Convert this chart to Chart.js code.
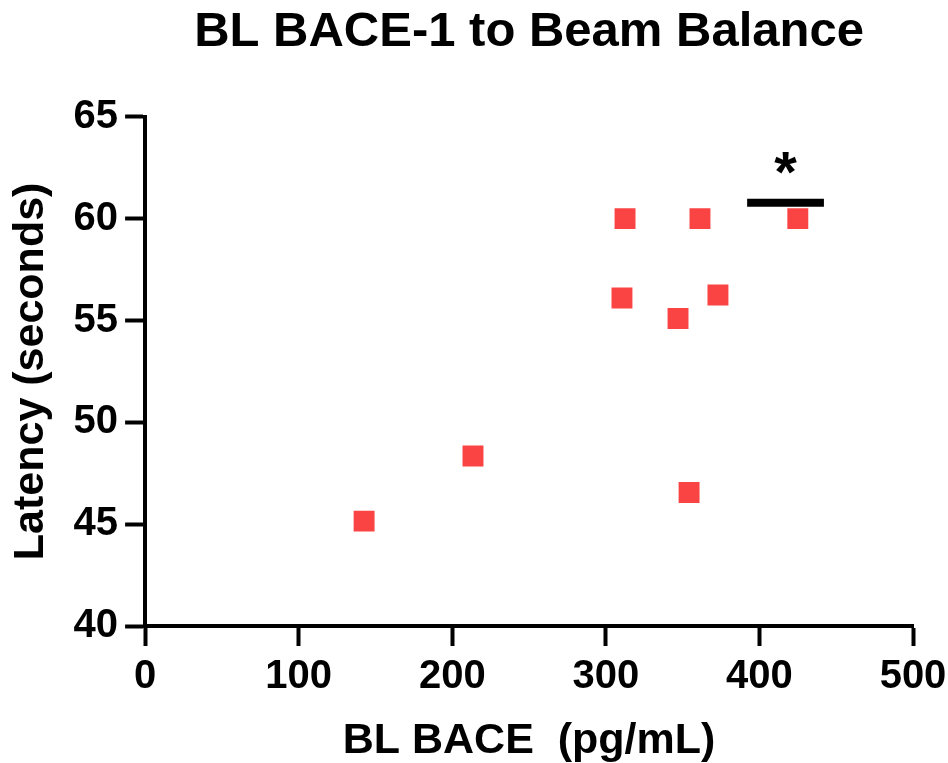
<!DOCTYPE html>
<html>
<head>
<meta charset="utf-8">
<script src="https://cdn.jsdelivr.net/npm/chart.js@4/dist/chart.umd.min.js"></script>
<style>
  html, body { margin: 0; padding: 0; background: #fff; }
  #wrap { width: 948px; height: 763px; }
</style>
</head>
<body>
<div id="wrap"><canvas id="scatter" width="948" height="763"></canvas></div>
<script>
// values
var baceLevels = [142.6, 213.5, 312.5, 310.5, 361.3, 347, 354.2, 373, 425];
var latencies = [45.15, 48.35, 60, 56.1, 60, 55.1, 46.55, 56.25, 60];
var xTicks = [0, 100, 200, 300, 400, 500];
var yTicks = [40, 45, 50, 55, 60, 65];
// significance bar over the top group and its star
var sigBarX = [392, 442];
var sigBarY = 60.78;
var sigStarX = 417;
var sigStarY = 62.75;
var sigLabel = '*';

var points = baceLevels.map(function (x, i) { return { x: x, y: latencies[i] }; });

var sigPlugin = {
  id: 'sigMark',
  afterDatasetsDraw: function (chart) {
    var ctx = chart.ctx, xs = chart.scales.x, ys = chart.scales.y;
    ctx.save();
    ctx.strokeStyle = '#000';
    ctx.lineWidth = 8;
    ctx.beginPath();
    ctx.moveTo(xs.getPixelForValue(sigBarX[0]), ys.getPixelForValue(sigBarY));
    ctx.lineTo(xs.getPixelForValue(sigBarX[1]), ys.getPixelForValue(sigBarY));
    ctx.stroke();
    ctx.fillStyle = '#000';
    ctx.font = 'bold 58px "Liberation Sans", Arial, sans-serif';
    ctx.textAlign = 'center';
    ctx.textBaseline = 'middle';
    ctx.fillText(sigLabel, xs.getPixelForValue(sigStarX), ys.getPixelForValue(sigStarY) + 13);
    ctx.restore();
  }
};

var font = '"Liberation Sans", Arial, sans-serif';

new Chart(document.getElementById('scatter'), {
  type: 'scatter',
  data: {
    datasets: [{
      data: points,
      pointStyle: 'rect',
      pointRadius: 14.8,
      pointBorderWidth: 0,
      backgroundColor: '#fa4343',
      borderColor: '#fa4343'
    }]
  },
  options: {
    responsive: false,
    animation: false,
    layout: { padding: { left: 5, right: 0, top: 0, bottom: 0 } },
    plugins: {
      legend: { display: false },
      tooltip: { enabled: false },
      title: {
        display: true,
        fullSize: false,
        text: 'BL BACE-1 to Beam Balance',
        color: '#000',
        font: { family: font, size: 49, weight: 'bold' },
        padding: { top: 3, bottom: 55 }
      }
    },
    scales: {
      x: {
        type: 'linear',
        min: 0, max: 500,
        afterBuildTicks: function (s) { s.ticks = xTicks.map(function (v) { return { value: v }; }); },
        afterFit: function (s) { s.paddingRight = 35; },
        border: { display: true, width: 4, color: '#000' },
        grid: { drawOnChartArea: false, drawTicks: true, tickLength: 20, tickWidth: 4, tickColor: '#000' },
        ticks: { color: '#000', padding: 7, font: { family: font, size: 40, weight: 'bold' }, maxRotation: 0 },
        title: { display: true, text: 'BL BACE  (pg/mL)', color: '#000', padding: { top: 12, bottom: 0 },
                 font: { family: font, size: 43, weight: 'bold', lineHeight: 1.0 } }
      },
      y: {
        type: 'linear',
        min: 40, max: 65,
        afterBuildTicks: function (s) { s.ticks = yTicks.map(function (v) { return { value: v }; }); },
        border: { display: true, width: 4, color: '#000' },
        grid: { drawOnChartArea: false, drawTicks: true, tickLength: 20, tickWidth: 4, tickColor: '#000' },
        ticks: { color: '#000', padding: 7, font: { family: font, size: 40, weight: 'bold' } },
        title: { display: true, text: 'Latency (seconds)', color: '#000', padding: { top: 0, bottom: 10 },
                 font: { family: font, size: 43, weight: 'bold' } }
      }
    }
  },
  plugins: [sigPlugin]
});
</script>
</body>
</html>
